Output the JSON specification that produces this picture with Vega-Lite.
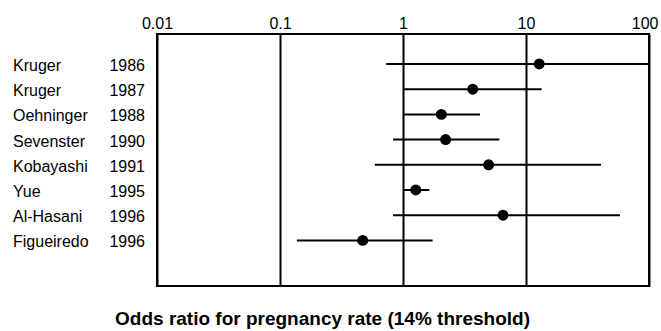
{
  "$schema": "https://vega.github.io/schema/vega-lite/v6.json",
  "padding": {"left": 0, "top": 14, "right": 0, "bottom": 0},
  "background": "white",
  "bounds": "flush",
  "spacing": 0,
  "config": {"font": "Liberation Sans", "view": {"stroke": null}},
  "title": {
    "text": "Odds ratio for pregnancy rate (14% threshold)",
    "orient": "bottom",
    "anchor": "middle",
    "fontSize": 19,
    "fontWeight": "bold",
    "font": "Liberation Sans",
    "color": "black",
    "offset": 23,
    "dx": -7
  },
  "data": {
    "values": [
      {"label": "Kruger 1986", "study": "Kruger", "year": "1986", "or": 12.8, "lo": 0.73, "hi": 100},
      {"label": "Kruger 1987", "study": "Kruger", "year": "1987", "or": 3.69, "lo": 1.02, "hi": 13.4},
      {"label": "Oehninger 1988", "study": "Oehninger", "year": "1988", "or": 2.05, "lo": 1.02, "hi": 4.23},
      {"label": "Sevenster 1990", "study": "Sevenster", "year": "1990", "or": 2.22, "lo": 0.83, "hi": 6.07},
      {"label": "Kobayashi 1991", "study": "Kobayashi", "year": "1991", "or": 4.97, "lo": 0.59, "hi": 40.7},
      {"label": "Yue 1995", "study": "Yue", "year": "1995", "or": 1.27, "lo": 1.02, "hi": 1.64},
      {"label": "Al-Hasani 1996", "study": "Al-Hasani", "year": "1996", "or": 6.5, "lo": 0.83, "hi": 58},
      {"label": "Figueiredo 1996", "study": "Figueiredo", "year": "1996", "or": 0.47, "lo": 0.137, "hi": 1.74}
    ]
  },
  "resolve": {"scale": {"y": "shared"}},
  "hconcat": [
    {
      "width": 157,
      "height": 252,
      "view": {"stroke": null},
      "encoding": {
        "y": {"field": "label", "type": "nominal", "sort": null, "scale": {"type": "band", "paddingInner": 0, "paddingOuter": 1.09, "align": 0.345}, "axis": null}
      },
      "layer": [
        {
          "mark": {"type": "text", "align": "left", "baseline": "middle", "fontSize": 16, "dx": 13, "dy": 2, "color": "black", "font": "Liberation Sans"},
          "encoding": {
            "x": {"datum": 0, "type": "quantitative", "scale": {"domain": [0, 1]}, "axis": null},
            "text": {"field": "study"}
          }
        },
        {
          "mark": {"type": "text", "align": "right", "baseline": "middle", "fontSize": 16, "dx": -12, "dy": 2, "color": "black", "font": "Liberation Sans"},
          "encoding": {
            "x": {"datum": 1, "type": "quantitative", "scale": {"domain": [0, 1]}, "axis": null},
            "text": {"field": "year"}
          }
        }
      ]
    },
    {
      "width": 492,
      "height": 252,
      "view": {"stroke": "black", "strokeWidth": 2},
      "encoding": {
        "y": {"field": "label", "type": "nominal", "sort": null, "scale": {"type": "band", "paddingInner": 0, "paddingOuter": 1.09, "align": 0.345}, "axis": null}
      },
      "layer": [
        {
          "mark": {"type": "rule", "strokeWidth": 2, "color": "black"},
          "encoding": {
            "x": {
              "field": "lo",
              "type": "quantitative",
              "scale": {"type": "log", "domain": [0.01, 100], "nice": false},
              "axis": {
                "orient": "top",
                "values": [0.01, 0.1, 1, 10, 100],
                "format": "~g",
                "grid": true,
                "gridColor": "black",
                "gridWidth": 2,
                "gridOpacity": 1,
                "ticks": false,
                "domain": false,
                "labelFontSize": 16,
                "labelFont": "Liberation Sans",
                "labelColor": "black",
                "labelPadding": 3,
                "labelFlush": false,
                "labelAlign": {"condition": {"test": "datum.value >= 100", "value": "right"}, "value": "center"},
                "labelOffset": {"condition": {"test": "datum.value >= 100", "value": 9}, "value": 0},
                "title": null
              }
            },
            "x2": {"field": "hi"}
          }
        },
        {
          "mark": {"type": "circle", "size": 120, "opacity": 1, "color": "black"},
          "encoding": {
            "x": {"field": "or", "type": "quantitative"}
          }
        }
      ]
    }
  ]
}
